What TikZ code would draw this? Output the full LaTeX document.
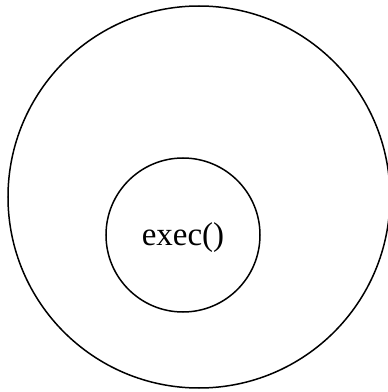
\documentclass[tikz,border=0pt]{standalone}
\usepackage{fontspec}
\setmainfont{Liberation Serif}
\begin{document}
\begin{tikzpicture}[x=1pt,y=1pt]
\useasboundingbox (0,0) rectangle (388,392);
% outer and inner rings:
\node[draw, circle, line width=1.5pt, minimum size=382pt, inner sep=0pt] (outer) at (199,195) {};
\node[draw, circle, line width=1.5pt, minimum size=154pt, inner sep=0pt] (execring) at (183,157) {};
\node[font=\fontsize{33}{40}\selectfont] (execlabel) at ([yshift=-3pt]execring.center) {exec()};
\end{tikzpicture}
\end{document}
